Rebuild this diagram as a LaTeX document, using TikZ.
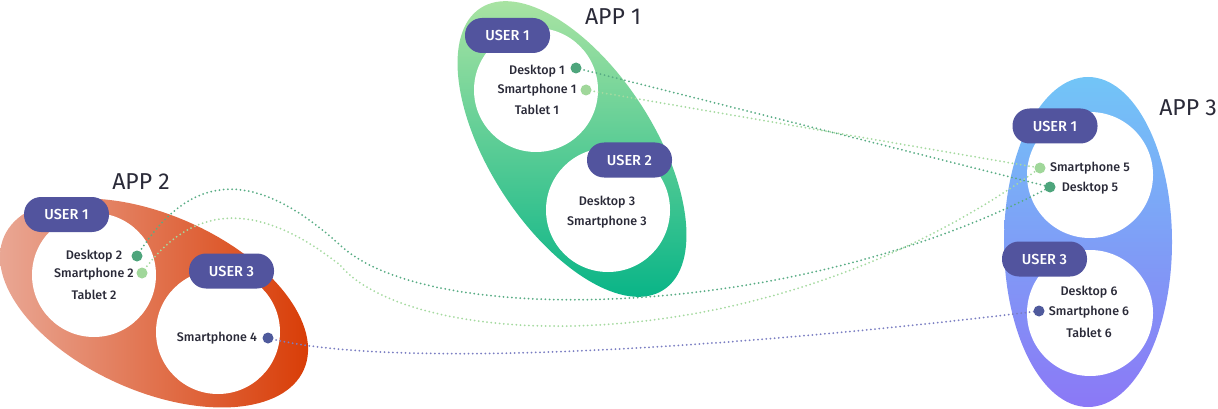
\documentclass[tikz,border=0pt]{standalone}
\usepackage{fontspec}
\setmainfont{Fira Sans}[UprightFont=* Medium]
\newfontfamily\titlefont{Fira Sans}
\usetikzlibrary{shapes.geometric}
\definecolor{badgeblue}{RGB}{82,84,158}
\definecolor{inkgray}{RGB}{42,42,56}
\definecolor{dkgreen}{RGB}{78,165,124}
\definecolor{ltgreen}{RGB}{160,215,154}
\definecolor{dotpurple}{RGB}{79,90,156}
\definecolor{linkdk}{RGB}{88,172,132}
\definecolor{linklt}{RGB}{165,218,160}
\definecolor{linkpu}{RGB}{122,126,194}
\definecolor{grA}{RGB}{178,230,164}
\definecolor{grB}{RGB}{0,178,134}
\definecolor{rdA}{RGB}{234,172,155}
\definecolor{rdB}{RGB}{216,56,0}
\definecolor{blA}{RGB}{114,197,247}
\definecolor{blB}{RGB}{139,120,246}
\begin{document}
\begin{tikzpicture}[x=1pt,y=-1pt,
  app/.style={ellipse,inner sep=0pt},
  usr/.style={circle,fill=white,minimum size=124pt,inner sep=0pt},
  badge/.style={rectangle,rounded corners=17pt,fill=badgeblue,text=white,minimum width=85pt,minimum height=35pt,inner sep=0pt,font=\fontsize{14.5}{16}\selectfont},
  dev/.style={text=inkgray,inner sep=0pt,font=\fontsize{12.5}{14}\selectfont},
  title/.style={text=inkgray,inner sep=0pt,font=\titlefont\fontsize{23}{26}\selectfont},
  dot/.style={circle,minimum size=11pt,inner sep=0pt},
  link/.style={line width=2pt,dash pattern=on 0pt off 4.2pt,line cap=round}]
\useasboundingbox (0,0) rectangle (1218,409);
% app shapes
\node[app,minimum width=164pt,minimum height=336pt,rotate=33,top color=grA,bottom color=grB] (app1) at (572,149) {};
\node[app,minimum width=328pt,minimum height=176pt,rotate=-24,left color=rdA,right color=rdB] (app2) at (154,303) {};
\node[app,minimum width=168pt,minimum height=330pt,top color=blA,bottom color=blB] (app3) at (1088,242) {};
\node[title] (t1) at (613,17) {APP 1};
\node[title] (t2) at (141,182) {APP 2};
\node[title] (t3) at (1188,108) {APP 3};
% user circles
\node[usr] (a1u1) at (536,90) {};
\node[usr] (a1u2) at (608,210) {};
\node[usr] (a2u1) at (94,275) {};
\node[usr] (a2u3) at (218,332) {};
\node[usr,minimum size=126pt] (a3u1) at (1090,175) {};
\node[usr,minimum size=126pt] (a3u3) at (1090,313) {};
% devices
\node[dev] (dk1) at (537,71) {Desktop 1};
\node[dev] (sp1) at (537,90) {Smartphone 1};
\node[dev] (tb1) at (537,110) {Tablet 1};
\node[dev] (dk3) at (607,202) {Desktop 3};
\node[dev] (sp3) at (607,222) {Smartphone 3};
\node[dev] (dk2) at (94,256) {Desktop 2};
\node[dev] (sp2) at (94,274) {Smartphone 2};
\node[dev] (tb2) at (94,295) {Tablet 2};
\node[dev] (sp4) at (217,338) {Smartphone 4};
\node[dev] (sp5) at (1090,168) {Smartphone 5};
\node[dev] (dk5) at (1090,188) {Desktop 5};
\node[dev] (dk6) at (1089,292) {Desktop 6};
\node[dev] (sp6) at (1089,312) {Smartphone 6};
\node[dev] (tb6) at (1089,333) {Tablet 6};
% links
\draw[link,linkdk] (576,68) coordinate (dt1) -- (1050,187) coordinate (dt5);
\draw[link,linklt] (586,90) coordinate (st1) -- (1040,168) coordinate (st5);
\coordinate (dt2) at (137,256);
\coordinate (st2) at (142,273);
\coordinate (st4) at (268,338);
\coordinate (st6) at (1039,311);
\draw[link,linkdk] (dt2) .. controls (190,170) and (255,168) .. (340,245) .. controls (430,330) and (800,320) .. (dt5);
\draw[link,linklt] (st2) .. controls (190,205) and (255,198) .. (340,265) .. controls (410,350) and (760,370) .. (st5);
\draw[link,linkpu] (st4) .. controls (400,372) and (760,345) .. (st6);
% dots
\node[dot,fill=dkgreen] (dt1d) at (dt1) {};
\node[dot,fill=ltgreen] (st1d) at (st1) {};
\node[dot,fill=dkgreen] (dt2d) at (dt2) {};
\node[dot,fill=ltgreen] (st2d) at (st2) {};
\node[dot,fill=dotpurple] (st4d) at (st4) {};
\node[dot,fill=ltgreen] (st5d) at (st5) {};
\node[dot,fill=dkgreen] (dt5d) at (dt5) {};
\node[dot,fill=dotpurple] (st6d) at (st6) {};
% badges
\node[badge] (b11) at (507.5,35.5) {USER 1};
\node[badge] (b12) at (629.5,160) {USER 2};
\node[badge] (b21) at (66.5,214.5) {USER 1};
\node[badge] (b23) at (231.5,271) {USER 3};
\node[badge] (b31) at (1055,126) {USER 1};
\node[badge] (b33) at (1044.5,259) {USER 3};
\end{tikzpicture}
\end{document}
